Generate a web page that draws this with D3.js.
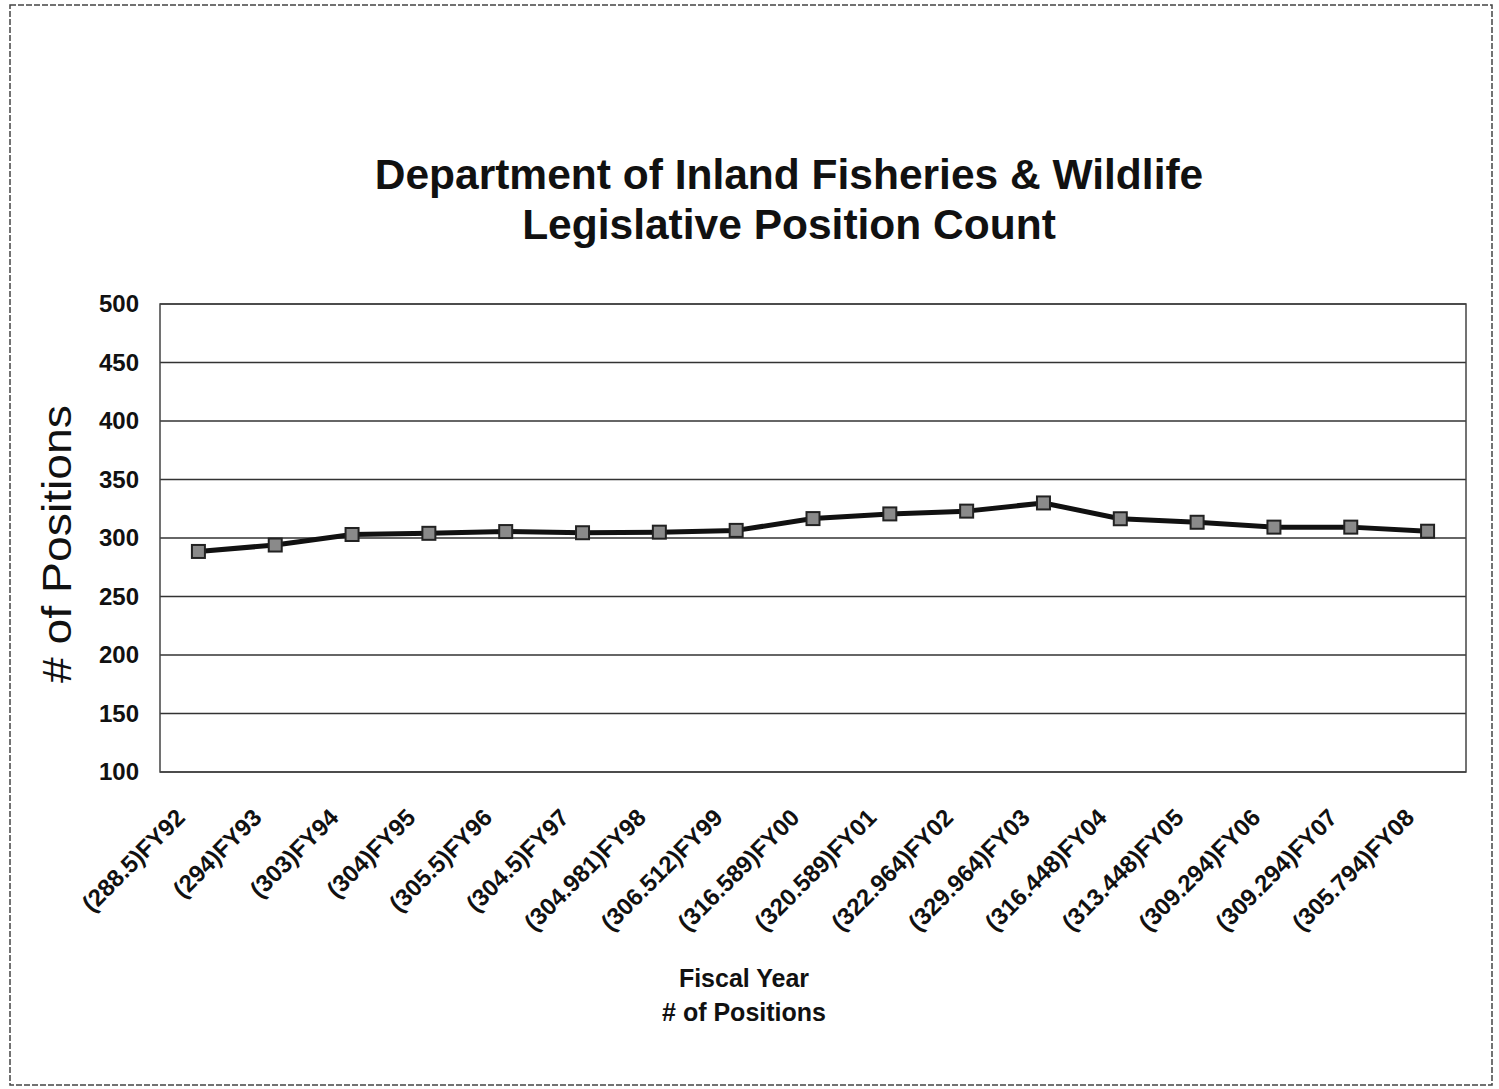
<!DOCTYPE html>
<html>
<head>
<meta charset="utf-8">
<script src="https://cdn.jsdelivr.net/npm/d3@7.9.0/dist/d3.min.js"></script>
<style>
  body { margin: 0; background: #fff; }
  svg text { font-family: "Liberation Sans", Arial, sans-serif; fill: #111; }
</style>
</head>
<body>
<svg id="chart" width="1499" height="1089"></svg>
<script>
// Chart data
const years = ['FY92','FY93','FY94','FY95','FY96','FY97','FY98','FY99','FY00','FY01','FY02','FY03','FY04','FY05','FY06','FY07','FY08'];
const positions = [288.5, 294, 303, 304, 305.5, 304.5, 304.981, 306.512, 316.589, 320.589, 322.964, 329.964, 316.448, 313.448, 309.294, 309.294, 305.794];
const yTicks = [100, 150, 200, 250, 300, 350, 400, 450, 500];

const data = years.map((y, i) => ({ year: y, value: positions[i], label: `(${positions[i]})${y}` }));

const svg = d3.select('#chart');
const plot = { left: 160, right: 1466, top: 304, bottom: 772 };

// Outer frame
svg.append('rect')
    .attr('x', 10).attr('y', 5)
    .attr('width', 1482).attr('height', 1080)
    .attr('fill', 'none')
    .attr('stroke', '#444')
    .attr('stroke-width', 1.5)
    .attr('stroke-dasharray', '6,2');

const x = d3.scaleBand()
    .domain(data.map(d => d.label))
    .range([plot.left, plot.right]);

const y = d3.scaleLinear()
    .domain([100, 500])
    .range([plot.bottom, plot.top]);

// Gridlines
svg.append('g')
    .selectAll('line')
    .data(yTicks)
    .join('line')
    .attr('x1', plot.left).attr('x2', plot.right)
    .attr('y1', d => y(d)).attr('y2', d => y(d))
    .attr('stroke', '#333')
    .attr('stroke-width', 1.5);

// Plot frame
svg.append('rect')
    .attr('x', plot.left).attr('y', plot.top)
    .attr('width', plot.right - plot.left).attr('height', plot.bottom - plot.top)
    .attr('fill', 'none')
    .attr('stroke', '#444')
    .attr('stroke-width', 1.5);

// Y axis
const yAxis = svg.append('g')
    .attr('transform', `translate(${plot.left},0)`)
    .call(d3.axisLeft(y).tickValues(yTicks).tickSize(0).tickPadding(21));
yAxis.select('.domain').remove();
yAxis.selectAll('text')
    .attr('font-size', 24)
    .attr('font-weight', 'bold')
    .style('font-family', '"Liberation Sans", Arial, sans-serif');

// X axis labels, rotated
const xAxis = svg.append('g')
    .attr('transform', `translate(0,${plot.bottom})`)
    .call(d3.axisBottom(x).tickSize(0).tickPadding(0));
xAxis.select('.domain').remove();
xAxis.selectAll('text')
    .attr('font-size', 24)
    .attr('font-weight', 'bold')
    .style('font-family', '"Liberation Sans", Arial, sans-serif')
    .attr('text-anchor', 'end')
    .attr('dy', 0)
    .attr('y', 0).attr('x', 0)
    .attr('transform', 'translate(-12,47) rotate(-45)');

// Line
const line = d3.line()
    .x(d => x(d.label) + x.bandwidth() / 2)
    .y(d => y(d.value));

svg.append('path')
    .datum(data)
    .attr('d', line)
    .attr('fill', 'none')
    .attr('stroke', '#111')
    .attr('stroke-width', 5)
    .attr('stroke-linejoin', 'round');

// Markers
svg.append('g')
    .selectAll('rect')
    .data(data)
    .join('rect')
    .attr('x', d => x(d.label) + x.bandwidth() / 2 - 6.5)
    .attr('y', d => y(d.value) - 6.5)
    .attr('width', 13).attr('height', 13)
    .attr('fill', '#8a8a8a')
    .attr('stroke', '#222')
    .attr('stroke-width', 2);

// Title
const title = svg.append('text')
    .attr('text-anchor', 'middle')
    .attr('font-size', 42.5)
    .attr('font-weight', 'bold');
title.append('tspan').attr('x', 789).attr('y', 189).text('Department of Inland Fisheries & Wildlife');
title.append('tspan').attr('x', 789).attr('y', 239).text('Legislative Position Count');

// Y axis title
svg.append('text')
    .attr('transform', 'translate(71,544) rotate(-90)')
    .attr('text-anchor', 'middle')
    .attr('font-size', 40)
    .attr('textLength', 278)
    .attr('lengthAdjust', 'spacingAndGlyphs')
    .text('# of Positions');

// X axis title
svg.append('text')
    .attr('x', 744).attr('y', 987)
    .attr('text-anchor', 'middle')
    .attr('font-size', 25)
    .attr('font-weight', 'bold')
    .text('Fiscal Year');
svg.append('text')
    .attr('x', 744).attr('y', 1021)
    .attr('text-anchor', 'middle')
    .attr('font-size', 25)
    .attr('font-weight', 'bold')
    .text('# of Positions');
</script>
</body>
</html>
